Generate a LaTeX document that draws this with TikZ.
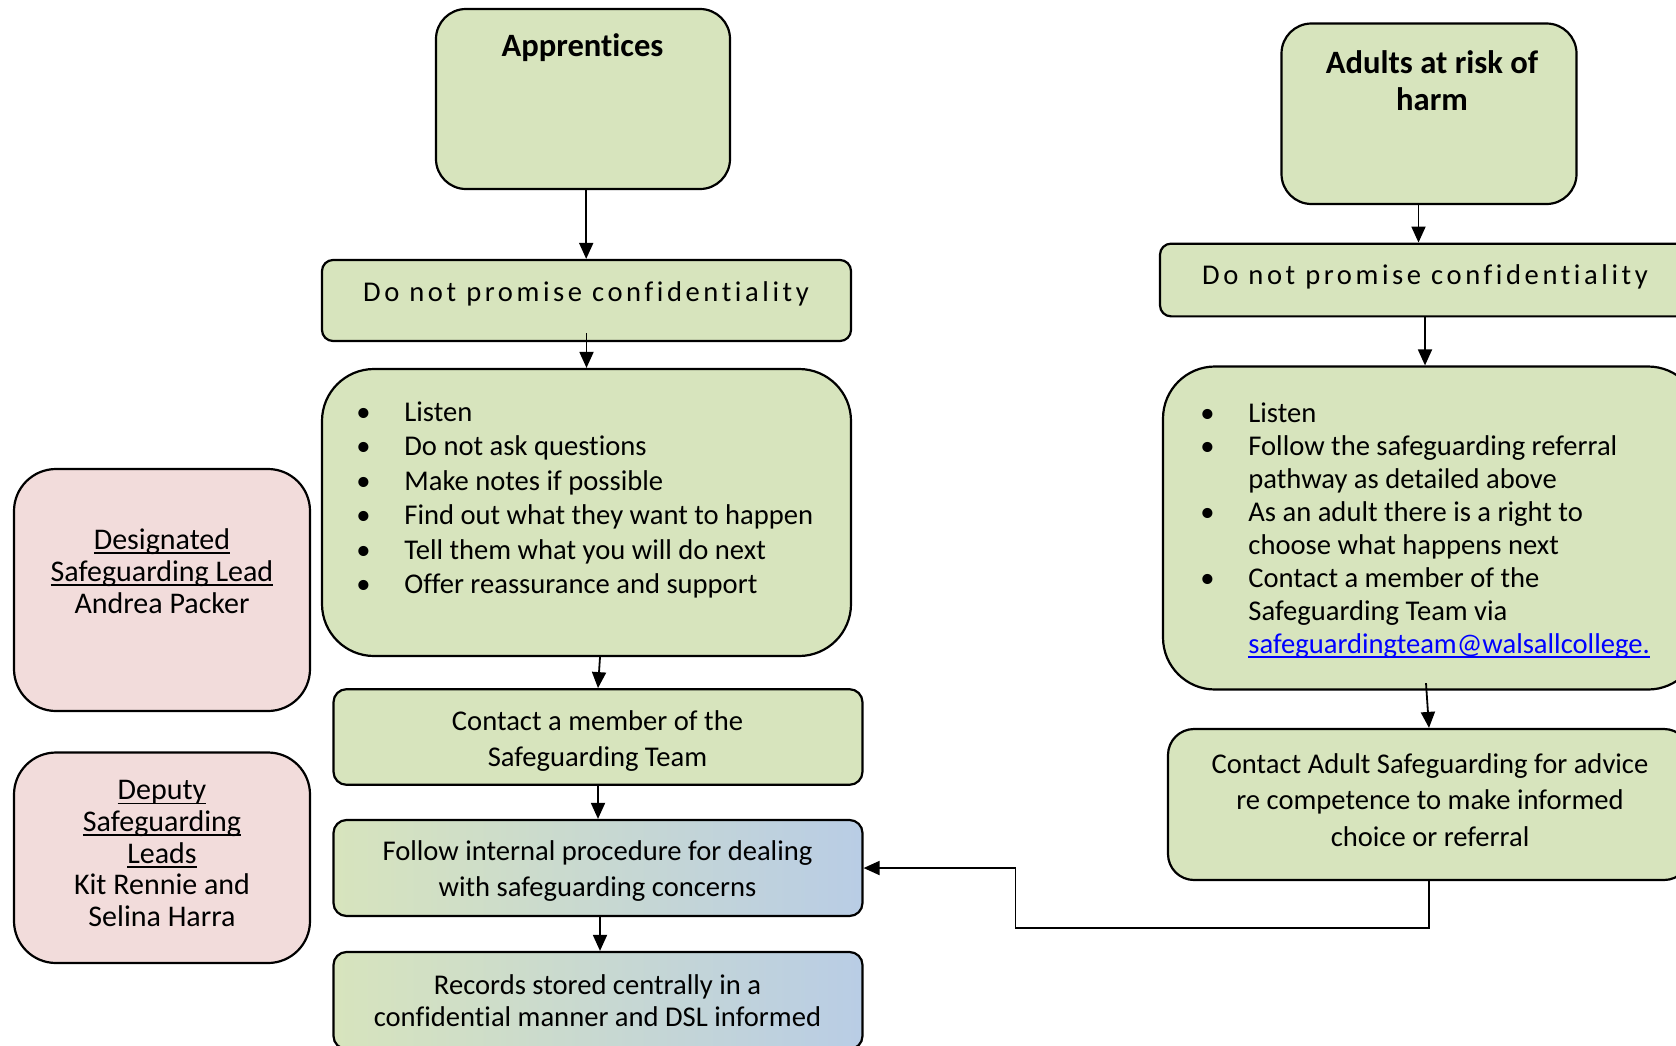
\documentclass[tikz,border=0pt]{standalone}
\usepackage{fontspec}
\setmainfont{Carlito}[Ligatures=NoCommon]
\newfontfamily\spacedfont[LetterSpace=12.5,Ligatures=NoCommon]{Carlito}
\usetikzlibrary{arrows.meta}
\definecolor{boxgreen}{HTML}{D7E4BD}
\definecolor{boxpink}{HTML}{F2DCDB}
\definecolor{boxblue}{HTML}{B9CDE5}
\definecolor{linkblue}{HTML}{0000FF}
\newcommand{\bl}{\makebox[24pt][l]{•}}
\newcommand{\ind}{\hspace*{24pt}}
\newcommand{\myul}[1]{\setbox0\hbox{#1}\rlap{\rule[-2.3pt]{\wd0}{0.75pt}}\box0}
\begin{document}
\begin{tikzpicture}[x=0.5pt,y=-0.5pt,
  box/.style={draw=black,line width=1.1pt,fill=boxgreen,inner sep=0pt},
  pinkbox/.style={box,fill=boxpink},
  gradbox/.style={box,left color=boxgreen,right color=boxblue},
  txt/.style={inner sep=0pt,align=center,font=\fontsize{14.3pt}{18.2pt}\selectfont},
  titletxt/.style={inner sep=0pt,align=center,font=\fontsize{16.3pt}{18.5pt}\selectfont\bfseries},
  arr/.style={-{Triangle[length=8pt,width=7pt]},line width=0.9pt}]
\clip (0,0) rectangle (1676,1045);
\fill[white] (0,0) rectangle (1676,1045);

% ---- left column boxes
\node[box,rounded corners=15pt,minimum width=147pt,minimum height=90pt] (app) at (583,99) {};
\node[box,rounded corners=5.5pt,minimum width=264.5pt,minimum height=40.5pt] (dnpL) at (586.5,300.5) {};
\node[box,rounded corners=26pt,minimum width=264.5pt,minimum height=143.5pt] (listL) at (586.5,512.5) {};
\node[box,rounded corners=6.5pt,minimum width=264.5pt,minimum height=47.8pt] (contact) at (598,737) {};
\node[gradbox,rounded corners=6.5pt,minimum width=264.5pt,minimum height=48pt] (follow) at (598,868) {};
\node[gradbox,rounded corners=6.5pt,minimum width=264.5pt,minimum height=48.5pt] (records) at (598,1000.5) {};

% ---- pink boxes
\node[pinkbox,rounded corners=21pt,minimum width=148pt,minimum height=121pt] (dsl) at (162,590) {};
\node[pinkbox,rounded corners=21pt,minimum width=148pt,minimum height=105.25pt] (ddsl) at (162,857.75) {};

% ---- right column boxes
\node[box,rounded corners=15pt,minimum width=147.5pt,minimum height=90.25pt] (adults) at (1429,113.75) {};
\node[box,rounded corners=5.5pt,minimum width=265pt,minimum height=36.35pt] (dnpR) at (1425,280) {};
\node[box,rounded corners=26pt,minimum width=268.5pt,minimum height=161.5pt] (listR) at (1431.5,528) {};
\node[box,rounded corners=13pt,minimum width=261pt,minimum height=75.5pt] (contactA) at (1429,804.5) {};

% ---- texts
\node[titletxt] (appt) at (582.5,48) {Apprentices};
\node[titletxt] (adultst) at (1432,81) {Adults at risk of\\harm};
\node[txt,font=\fontsize{14.3pt}{18pt}\spacedfont] (dnpLt) at (586,294) {Do not promise confidentiality};
\node[txt,font=\fontsize{14.3pt}{18pt}\spacedfont] (dnpRt) at (1425,277) {Do not promise confidentiality};
\node[txt,align=left,anchor=west,font=\fontsize{14.3pt}{17.2pt}\selectfont] (listLt) at (356,500) {%
\bl Listen\\
\bl Do not ask questions\\
\bl Make notes if possible\\
\bl Find out what they want to happen\\
\bl Tell them what you will do next\\
\bl Offer reassurance and support};
\node[txt,align=left,anchor=west,font=\fontsize{14.3pt}{16.5pt}\selectfont] (listRt) at (1200,530.5) {%
\bl Listen\\
\bl Follow the safeguarding referral\\
\ind pathway as detailed above\\
\bl As an adult there is a right to\\
\ind choose what happens next\\
\bl Contact a member of the\\
\ind Safeguarding Team via\\
\ind{\color{linkblue}\myul{safeguardingteam@walsallcollege.}}};
\node[txt] (contactt) at (597.5,741) {Contact a member of the\\Safeguarding Team};
\node[txt] (followt) at (597.5,871) {Follow internal procedure for dealing\\with safeguarding concerns};
\node[txt,font=\fontsize{14.3pt}{16pt}\selectfont] (recordst) at (597.5,1001) {Records stored centrally in a\\confidential manner and DSL informed};
\node[txt] (contactAt) at (1430,800) {Contact Adult Safeguarding for advice\\re competence to make informed\\choice or referral};
\node[txt,font=\fontsize{15pt}{16pt}\selectfont] (dslt) at (162,571) {\myul{Designated}\\\myul{Safeguarding Lead}\\Andrea Packer};
\node[txt,font=\fontsize{15pt}{15.9pt}\selectfont] (ddslt) at (162,853.5) {\myul{Deputy}\\\myul{Safeguarding}\\\myul{Leads}\\Kit Rennie and\\Selina Harra};

% ---- connectors
\draw[arr] ([xshift=1.6pt]app.south) -- ([xshift=1.6pt]app.south |- dnpL.north);
\draw[arr] ([shift={(0,-9)}]dnpL.south) -- (dnpL.south |- listL.north);
\draw[arr] ([shift={(13.5,0)}]listL.south) -- (contact.north);
\draw[arr] (contact.south) -- (contact.south |- follow.north);
\draw[arr] ([shift={(2,0)}]follow.south) -- ([shift={(2,0)}]follow.south |- records.north);
\draw[arr] ([xshift=-5.25pt]adults.south) -- ([xshift=-5.25pt]adults.south |- dnpR.north);
\draw[arr] (dnpR.south) -- (dnpR.south |- listR.north);
\draw[arr] ([shift={(-5.5,-7.5)}]listR.south) -- (contactA.north);
\coordinate (bendA) at (1015.5,928);
\coordinate (bendB) at (1015.5,868);
\draw[arr] (contactA.south) -- (contactA.south |- bendA) -- (bendA) -- (bendB) -- (follow.east);
\end{tikzpicture}
\end{document}
